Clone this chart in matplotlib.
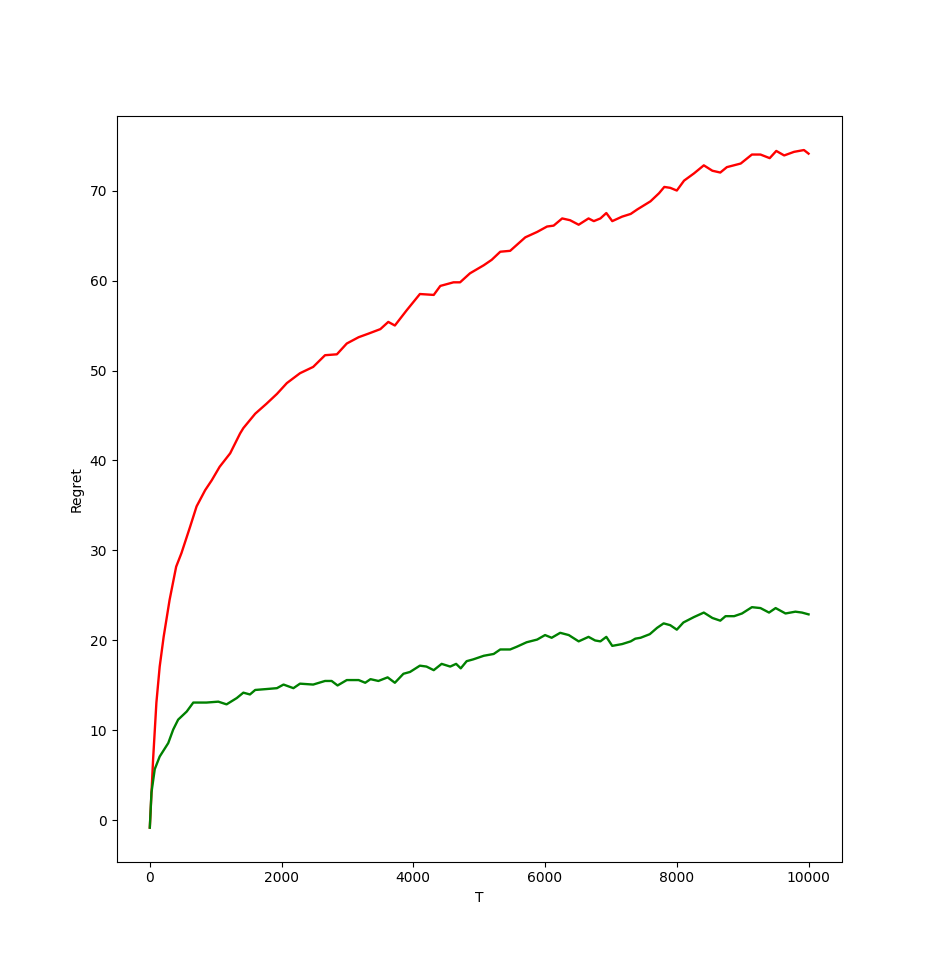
import matplotlib
matplotlib.use('Agg')
from matplotlib import pyplot as plt

# values
t_red = [0, 50, 100, 150, 210, 300, 400, 480, 610, 710, 840, 940, 1060,
         1220, 1370, 1420, 1600, 1770, 1930, 2080, 2280, 2480, 2660, 2840,
         2990, 3170, 3320, 3500, 3620, 3720, 3900, 4100, 4310, 4410, 4610,
         4710, 4860, 5070, 5190, 5320, 5470, 5700, 5880, 6030, 6130, 6260,
         6380, 6510, 6660, 6740, 6840, 6930, 7020, 7170, 7300, 7400, 7600,
         7730, 7810, 7900, 8000, 8110, 8260, 8410, 8540, 8660, 8760, 8970,
         9140, 9270, 9410, 9510, 9630, 9780, 9930, 10000]
regret_red = [-0.8, 6.8, 13.1, 17.1, 20.4, 24.5, 28.2, 29.7, 32.6, 34.9,
              36.7, 37.8, 39.3, 40.8, 43.0, 43.6, 45.2, 46.3, 47.4, 48.6,
              49.7, 50.4, 51.7, 51.8, 53.0, 53.7, 54.1, 54.6, 55.4, 55.0,
              56.7, 58.5, 58.4, 59.4, 59.8, 59.8, 60.8, 61.7, 62.3, 63.2,
              63.3, 64.8, 65.4, 66.0, 66.1, 66.9, 66.7, 66.2, 66.9, 66.6,
              66.9, 67.5, 66.6, 67.1, 67.4, 67.9, 68.8, 69.7, 70.4, 70.3,
              70.0, 71.1, 71.9, 72.8, 72.2, 72.0, 72.6, 73.0, 74.0, 74.0,
              73.6, 74.4, 73.9, 74.3, 74.5, 74.1]

t_green = [0, 25, 75, 150, 280, 355, 430, 560, 660, 860, 1040, 1165, 1320,
           1420, 1520, 1600, 1770, 1930, 2030, 2180, 2280, 2480, 2660, 2760,
           2850, 2990, 3170, 3270, 3350, 3470, 3610, 3720, 3850, 3950, 4100,
           4200, 4310, 4430, 4560, 4650, 4720, 4810, 4910, 5070, 5220, 5320,
           5470, 5570, 5720, 5880, 6000, 6100, 6230, 6360, 6510, 6660, 6760,
           6840, 6930, 7020, 7170, 7300, 7370, 7450, 7590, 7700, 7800, 7900,
           8000, 8100, 8260, 8410, 8540, 8660, 8740, 8870, 8990, 9140, 9270,
           9400, 9500, 9650, 9800, 9900, 10000]
regret_green = [-0.8, 3.1, 5.7, 7.1, 8.6, 10.1, 11.2, 12.1, 13.1, 13.1,
                13.2, 12.9, 13.6, 14.2, 14.0, 14.5, 14.6, 14.7, 15.1, 14.7,
                15.2, 15.1, 15.5, 15.5, 15.0, 15.6, 15.6, 15.3, 15.7, 15.5,
                15.9, 15.3, 16.3, 16.5, 17.2, 17.1, 16.7, 17.4, 17.1, 17.4,
                16.9, 17.7, 17.9, 18.3, 18.5, 19.0, 19.0, 19.3, 19.8, 20.1,
                20.6, 20.3, 20.85, 20.6, 19.9, 20.4, 20.0, 19.9, 20.4, 19.4,
                19.6, 19.9, 20.2, 20.3, 20.7, 21.4, 21.9, 21.7, 21.2, 22.0,
                22.6, 23.1, 22.5, 22.2, 22.7, 22.7, 23.0, 23.7, 23.6, 23.1,
                23.6, 23.0, 23.2, 23.1, 22.9]

fig = plt.figure(figsize=(9.35, 9.68), dpi=100)
ax = fig.add_subplot(1, 1, 1)
ax.plot(t_red, regret_red, 'r', linewidth=1.7)
ax.plot(t_green, regret_green, 'g', linewidth=1.7)
ax.set_xlabel('T')
ax.set_ylabel('Regret')
plt.savefig('out.png')
